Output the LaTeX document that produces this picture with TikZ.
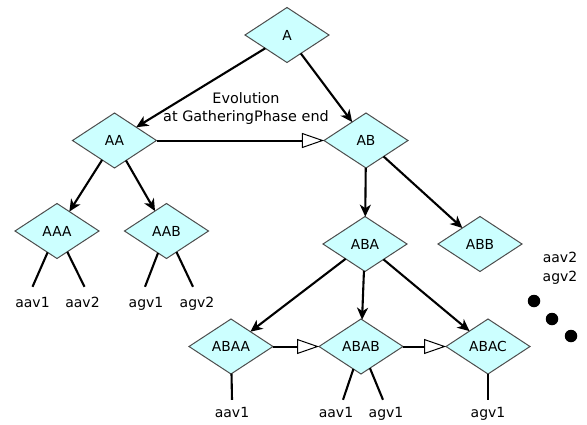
\documentclass[tikz,border=0pt]{standalone}
\usepackage{fontspec}
\setmainfont{DejaVu Sans}
\usetikzlibrary{shapes.geometric,arrows.meta}
\definecolor{dfill}{HTML}{CCFFFF}
\definecolor{dborder}{HTML}{4D4D4D}
\begin{document}
\begin{tikzpicture}[x=1pt,y=-1pt,
  dnode/.style={diamond, draw=dborder, fill=dfill, line width=1pt, minimum width=84pt, minimum height=55pt, inner sep=0pt, outer sep=0pt, font=\fontsize{13.8}{16}\selectfont},
  leaf/.style={inner sep=0pt, font=\fontsize{14}{16}\selectfont, text height=10pt, text depth=0pt},
  arr/.style={-{Stealth[length=12pt,width=11pt,inset=3.5pt]}, line width=2.1pt},
  evo/.style={-{Triangle[length=22pt,width=15pt,fill=white,line width=1pt]}, line width=2pt},
  stem/.style={line width=2.1pt},
  dotn/.style={circle, fill=black, inner sep=0pt, minimum size=12.5pt}
]
\useasboundingbox (0,0) rectangle (587,424);

% diamonds
\node[dnode] (A)    at (287,35)    {A};
\node[dnode] (AA)   at (114.5,140.5) {AA};
\node[dnode] (AB)   at (366,140.5) {AB};
\node[dnode] (AAA)  at (57,231)    {AAA};
\node[dnode] (AAB)  at (166.5,231) {AAB};
\node[dnode] (ABA)  at (365,244)   {ABA};
\node[dnode] (ABB)  at (480,244)   {ABB};
\node[dnode] (ABAA) at (231,346.5) {ABAA};
\node[dnode] (ABAB) at (361,346.5) {ABAB};
\node[dnode] (ABAC) at (488,346.5) {ABAC};

% evolution label
\node[align=center, inner sep=0pt, font=\fontsize{14.4}{18}\selectfont] (evol) at (246,109) {Evolution\\at GatheringPhase end};

% leaves
\node[leaf] (l1) at (32.5,302) {aav1};
\node[leaf] (l2) at (82.5,302) {aav2};
\node[leaf] (l3) at (146,302)  {agv1};
\node[leaf] (l4) at (197,302)  {agv2};
\node[leaf] (l5) at (232,412)  {aav1};
\node[leaf] (l6) at (336,412)  {aav1};
\node[leaf] (l7) at (386,412)  {agv1};
\node[leaf] (l8) at (488,412)  {agv1};
\node[leaf] (r1) at (560,257)  {aav2};
\node[leaf] (r2) at (560,276)  {agv2};

% dots
\node[dotn] (d1) at (534,301) {};
\node[dotn] (d2) at (552,319) {};
\node[dotn] (d3) at (571,336) {};

% arrows
\draw[arr] (A) -- (AA);
\draw[arr] (A) -- (AB);
\draw[arr] (AA) -- (AAA);
\draw[arr] (AA) -- (AAB);
\draw[arr] (AB) -- (ABA);
\draw[arr] (AB) -- (ABB);
\draw[arr] (ABA) -- (ABAA);
\draw[arr] (ABA) -- (ABAB);
\draw[arr] (ABA) -- (ABAC);

% evolution arrows
\draw[evo] (AA) -- (AB);
\draw[evo] (ABAA) -- (ABAB);
\draw[evo] (ABAB) -- (ABAC);

% stems
\draw[stem] (AAA) -- ([yshift=10pt]l1.north);
\draw[stem] (AAA) -- ([xshift=2pt,yshift=10pt]l2.north);
\draw[stem] (AAB) -- ([xshift=-1pt,yshift=10pt]l3.north);
\draw[stem] (AAB) -- ([xshift=-4pt,yshift=10pt]l4.north);
\draw[stem] (ABAA) -- ([yshift=7pt]l5.north);
\draw[stem] (ABAB) -- ([xshift=7pt,yshift=7pt]l6.north);
\draw[stem] (ABAB) -- ([xshift=-3pt,yshift=7pt]l7.north);
\draw[stem] (ABAC) -- ([yshift=7pt]l8.north);
\end{tikzpicture}
\end{document}
